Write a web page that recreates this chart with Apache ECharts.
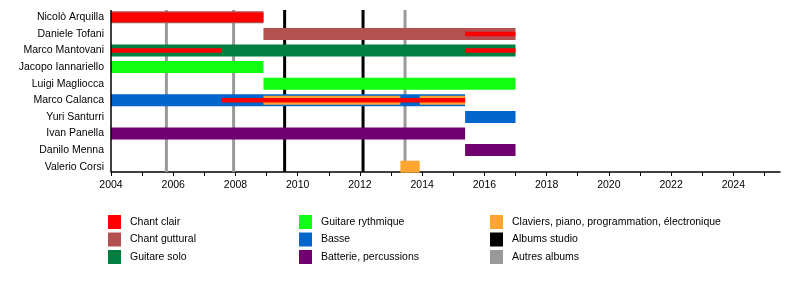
<!DOCTYPE html>
<html><head><meta charset="utf-8">
<script src="https://cdn.jsdelivr.net/npm/echarts@6/dist/echarts.min.js"></script>
<style>html,body{margin:0;padding:0;background:#fff}#c{width:800px;height:292px}</style>
</head><body><div id="c"></div>
<script>
// ---------- DATA ----------
const members = ['Nicolò Arquilla','Daniele Tofani','Marco Mantovani','Jacopo Iannariello','Luigi Magliocca','Marco Calanca','Yuri Santurri','Ivan Panella','Danilo Menna','Valerio Corsi'];
const xTickYears = [2004,2005,2006,2007,2008,2009,2010,2011,2012,2013,2014,2015,2016,2017,2018,2019,2020,2021,2022,2023,2024,2025];
const xLabelYears = [2004,2006,2008,2010,2012,2014,2016,2018,2020,2022,2024];

// [member, start, end]
const chantGuttural = [['Nicolò Arquilla',2004,2008.9],['Daniele Tofani',2008.9,2017.0]];
const chantClair = [['Nicolò Arquilla',2004,2008.9]];
const guitareSolo = [['Marco Mantovani',2004,2017.0]];
const guitareRythmique = [['Jacopo Iannariello',2004,2008.9],['Luigi Magliocca',2008.9,2017.0]];
const basse = [['Marco Calanca',2004,2015.38],['Yuri Santurri',2015.38,2017.0]];
const batterie = [['Ivan Panella',2004,2015.38],['Danilo Menna',2015.38,2017.0]];
const claviers = [['Valerio Corsi',2013.3,2013.92]];
const claviersSecondaire = [['Marco Calanca',2008.9,2013.3],['Marco Calanca',2013.92,2015.38]];
const chantClairSecondaire = [['Daniele Tofani',2015.38,2017.0],['Marco Mantovani',2004,2007.56],['Marco Mantovani',2015.38,2017.0],['Marco Calanca',2007.56,2015.38]];
const albumsStudio = [2009.58, 2012.1];
const autresAlbums = [2005.78, 2007.94, 2013.45];

// ---------- STYLE ----------
const FONT = "'Liberation Sans', Arial, sans-serif";
const C = {
  clair:'#FF0000', guttural:'#B35050', solo:'#008040', ryth:'#11FF11',
  basse:'#0066CC', batt:'#700070', clav:'#FFA530', studio:'#000000', autres:'#999999'
};
const PLOT_TOP = 10, AXIS_Y = 172;

function toData(arr){ return arr.map(d => [d[1], d[2], members.indexOf(d[0])]); }

function barSeries(name, arr, color, h, z){
  return {
    name, type:'custom', z,
    itemStyle:{color},
    encode:{x:[0,1], y:2},
    data: toData(arr),
    renderItem(params, api){
      const row = api.value(2);
      const s = api.coord([api.value(0), row]);
      const e = api.coord([api.value(1), row]);
      return {type:'rect', shape:{x:s[0], y:s[1]-h/2, width:e[0]-s[0], height:h}, style:{fill:color}};
    }
  };
}
function lineSeries(name, arr, color){
  return {
    name, type:'custom', z:1,
    itemStyle:{color},
    encode:{x:0},
    data: arr.map(v => [v]),
    renderItem(params, api){
      const x = api.coord([api.value(0), 0])[0];
      return {type:'line', shape:{x1:x, y1:PLOT_TOP, x2:x, y2:AXIS_Y}, style:{stroke:color, lineWidth:3}};
    }
  };
}

const chart = echarts.init(document.getElementById('c'), null, {renderer:'canvas'});
const legendBase = {
  orient:'vertical', top:215, padding:0, itemWidth:13, itemHeight:14, itemGap:3.5, icon:'rect',
  selectedMode:false, textStyle:{fontFamily:FONT, fontSize:10.5, color:'#000', padding:[0,0,0,4]}
};
chart.setOption({
  animation:false,
  grid:{left:111, right:20, top:9, height:166},
  xAxis:{
    type:'value', min:2004, max:2025.5, offset:-3,
    splitLine:{show:false},
    axisLine:{show:true, lineStyle:{color:'#000', width:1.5}},
    axisTick:{show:true, customValues:xTickYears, length:4, lineStyle:{color:'#000', width:1}},
    axisLabel:{customValues:xLabelYears, formatter:v => String(v), margin:8, color:'#000', fontFamily:FONT, fontSize:10.5}
  },
  yAxis:{
    type:'category', data:members, inverse:true,
    axisLine:{show:false}, axisTick:{show:false}, splitLine:{show:false},
    axisLabel:{margin:7, color:'#000', fontFamily:FONT, fontSize:10.5}
  },
  legend:[
    Object.assign({}, legendBase, {left:108, data:['Chant clair','Chant guttural','Guitare solo']}),
    Object.assign({}, legendBase, {left:299, data:['Guitare rythmique','Basse','Batterie, percussions']}),
    Object.assign({}, legendBase, {left:490, data:['Claviers, piano, programmation, électronique','Albums studio','Autres albums']})
  ],
  graphic:[{type:'line', shape:{x1:111, y1:PLOT_TOP, x2:111, y2:AXIS_Y}, style:{stroke:'#000', lineWidth:1.5}, z:10}],
  series:[
    lineSeries('Autres albums', autresAlbums, C.autres),
    lineSeries('Albums studio', albumsStudio, C.studio),
    barSeries('Chant guttural', chantGuttural, C.guttural, 12, 2),
    barSeries('Guitare solo', guitareSolo, C.solo, 12, 2),
    barSeries('Guitare rythmique', guitareRythmique, C.ryth, 12, 2),
    barSeries('Basse', basse, C.basse, 12, 2),
    barSeries('Batterie, percussions', batterie, C.batt, 12, 2),
    barSeries('Claviers, piano, programmation, électronique', claviers, C.clav, 12, 3),
    barSeries('Chant clair', chantClair, C.clair, 9.5, 3),
    barSeries('Claviers secondaire', claviersSecondaire, C.clav, 9, 4),
    barSeries('Chant clair secondaire', chantClairSecondaire, C.clair, 4.5, 5)
  ]
});
</script></body></html>
